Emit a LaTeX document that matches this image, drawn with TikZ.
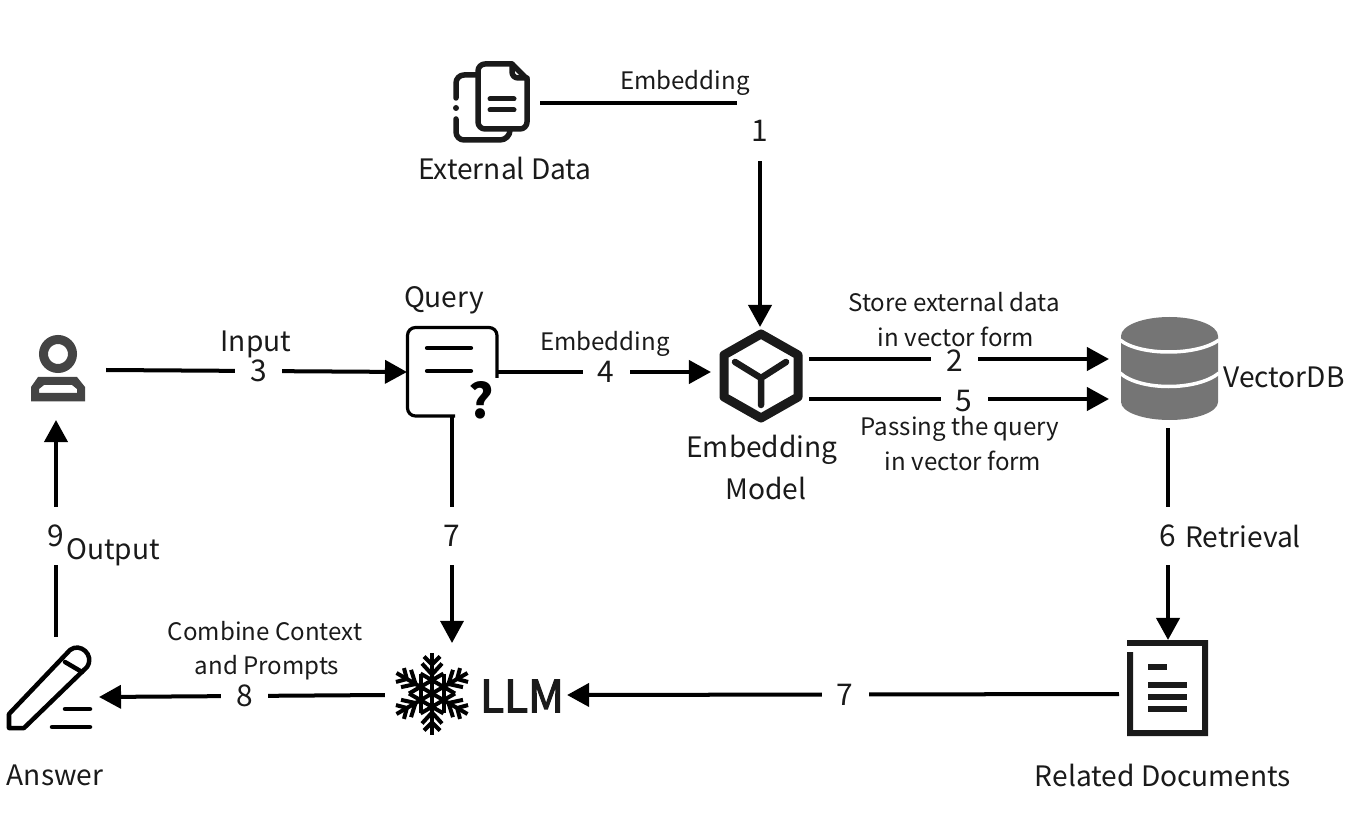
\documentclass[tikz,border=0pt]{standalone}
\usepackage{fontspec}
\setmainfont{Noto Sans CJK SC}
\usetikzlibrary{arrows.meta, calc}
\definecolor{ink}{HTML}{1A1A1A}
\definecolor{usergrey}{HTML}{444444}
\definecolor{dbgrey}{HTML}{757575}
\tikzset{el/.style={line cap=round, line join=round},
  slot/.style={inner sep=0pt, outer sep=0pt},
  flow/.style={-{Triangle[length=2.2mm,width=2.3mm]}, line width=0.4mm, black},
  num/.style={fill=white, inner sep=0pt, minimum width=0.47cm, minimum height=0.36cm, font=\fontsize{8.5}{10}\selectfont, text=ink},
  numv/.style={num, minimum height=0.58cm},
  lbl/.style={inner sep=0pt, font=\fontsize{6.85}{9}\selectfont, text=ink},
  captext/.style={inner sep=0pt, font=\fontsize{8}{10}\selectfont, text=ink}}

\begin{document}
\begin{tikzpicture}[x=0.01cm, y=-0.01cm]
  \useasboundingbox (0,0) rectangle (1368,834);
  % slots the connectors run between
  \node[slot, minimum width=0.88cm, minimum height=0.90cm] (docs) at (496,103) {};
  \node[slot, minimum width=1.00cm, minimum height=1.00cm] (user) at (56,370) {};
  \node[slot, minimum width=0.90cm, minimum height=0.90cm] (query) at (452,372) {};
  \node[slot, minimum width=0.98cm, minimum height=1.04cm] (embed) at (760,379) {};
  \node[slot, minimum width=1.18cm, minimum height=0.98cm] (vdb) at (1168,379) {};
  \node[slot, minimum width=0.98cm, minimum height=1.08cm] (related) at (1168,694) {};
  \node[slot, minimum width=1.82cm, minimum height=1.04cm] (llm) at (476,695) {};
  \node[slot, minimum width=0.86cm, minimum height=1.20cm] (answer) at (56,697) {};

  \draw[flow] (docs) -- (docs -| embed) -- node[numv, pos=0.125, minimum height=0.60cm] (n1) {1} (embed.north);
  \draw[flow] (user.east) -- node[num, pos=0.507] (n3) {3} (query.west);
  \draw[flow] (query.east) -- node[num, pos=0.51] (n4) {4} (embed.west |- query.east);
  \draw[flow] ($(embed.east)+(0,-20)$) -- node[num, pos=0.485, yshift=-0.02cm] (n2) {2} ($(vdb.west)+(0,-20)$);
  \draw[flow] ($(embed.east)+(0,20)$) -- node[num, pos=0.517, yshift=-0.02cm] (n5) {5} ($(vdb.west)+(0,20)$);
  \draw[flow] (vdb.south) -- node[numv, pos=0.51] (n6) {6} (related.north);
  \draw[flow, line width=0.32mm] (query.south) -- node[numv, pos=0.527] (n7a) {7} (llm.north -| query.south);
  \draw[flow] (related.west) -- node[num, pos=0.496] (n7b) {7} (llm.east);
  \draw[flow] (llm.west) -- node[num, pos=0.49] (n8) {8} (answer.east);
  \draw[flow] (answer.north) -- node[numv, pos=0.465] (n9) {9} (user.south);

  % external data
  \begin{scope}[el, ink, line width=0.055cm]
    \draw (512,64) -- (527,79) -- (527,122) arc (0:90:7) -- (485,129) arc (90:180:7) -- (478,71) arc (180:270:7) -- cycle;
    \draw (512,64) -- (512,72) arc (180:90:6) -- (527,78);
    \draw (476,75) -- (464,75) arc (270:180:8) -- (456,98);
    \fill (456,108) circle (3);
    \draw (456,119) -- (456,132) arc (180:90:8) -- (500,140) arc (90:0:10);
    \draw[line width=0.05cm] (490,99) -- (514,99) (490,110) -- (514,110);
  \end{scope}
  % user
  \draw[usergrey, line width=0.09cm] (58,354) circle (14.5);
  \fill[usergrey, even odd rule] (31,401.5) -- (31,387) -- (38,377) -- (77,377) -- (85,387) -- (85,401.5) -- cycle
     (39,393) -- (77,393) -- (77,389) -- (72,385) -- (44,385) -- (39,389) -- cycle;
  % query
  \draw[black, line width=0.032cm, rounded corners=0.08cm] (497,378) -- (497,327.5) -- (407.5,327.5) -- (407.5,416) -- (455,416);
  \draw[black, el, line width=0.042cm] (427,348) -- (471,348) (427,371) -- (471,371);
  \node[inner sep=0pt, font=\fontsize{13.5}{14}\selectfont\bfseries] (qmark) at (481,400) {?};
  % embedding model
  \draw[ink, el, line width=0.09cm] (761,334) -- (798,355) -- (798,397) -- (761,418) -- (724,397) -- (724,355) -- cycle;
  \draw[ink, el, line width=0.065cm] (735,362) -- (761,378) -- (786,362) (761,378) -- (761,405);
  % vector db
  \fill[dbgrey] (1121,336) arc (180:360:48.5 and 19) -- (1218,402) arc (0:180:48.5 and 18) -- cycle;
  \draw[white, line width=0.035cm] (1120,340) .. controls (1140,356) and (1197,356) .. (1219,340);
  \draw[white, line width=0.035cm] (1120,373) .. controls (1140,391) and (1197,391) .. (1219,373);
  % related documents
  \begin{scope}[ink]
    \fill (1127,640) rectangle (1208,646);
    \fill (1127,652) rectangle (1133,736) (1127,730) rectangle (1208,736) (1202,640) rectangle (1208,736);
    \fill (1148,664) rectangle (1167,670);
    \foreach \ly in {682,694,706}{\fill (1148,\ly) rectangle (1187,\ly+6);}
  \end{scope}
  % snowflake
  \begin{scope}[shift={(432,693.5)}, black, line width=0.04cm]
    \foreach \a in {30,90,...,330}{
      \draw (0,0) -- (\a:41);
      \draw (\a:29) -- ($(\a:37)+(\a+90:8)$) (\a:29) -- ($(\a:37)+(\a-90:8)$);
      \draw (\a:19) -- ($(\a:30)+(\a+90:10)$) (\a:19) -- ($(\a:30)+(\a-90:10)$);
      \draw (\a+30:23) -- (\a+150:23);}
  \end{scope}
  % answer
  \begin{scope}[el, black, line width=0.045cm]
    \draw (9,714) -- (70,650) .. controls (80,642) and (95,655) .. (87,667) -- (24,728) -- (9,728) -- cycle;
    \draw (65,662) -- (82,672);
    \draw (65,709) -- (90,709) (52,727) -- (90,727);
  \end{scope}

  \node[lbl] (tembed) at (685,83) {Embedding};
  \node[captext] (tdocs) at (505,168) {External Data};
  \node[captext] (tquery) at (444,300) {Query};
  \node[captext] (tinput) at (256,344) {Input};
  \node[lbl] (tembedq) at (605,344) {Embedding};
  \node[lbl] (tstore) at (954,302) {Store external data};
  \node[lbl] (tstoreb) at (956,337) {in vector form};
  \node[lbl] (tpass) at (960,429) {Passing the query};
  \node[lbl] (tpassb) at (963,461) {in vector form};
  \node[captext] (tmodel) at (762,450) {Embedding};
  \node[captext] (tmodelb) at (766,488) {Model};
  \node[captext] (tvdb) at (1284,377) {VectorDB};
  \node[captext] (tretr) at (1243,536) {Retrieval};
  \node[captext] (toutput) at (113,552) {Output};
  \node[lbl] (tcomb) at (265,631) {Combine Context};
  \node[lbl] (tcombb) at (267,668) {and Prompts};
  \node[inner sep=0pt, font=\fontsize{12.6}{14}\selectfont\addfontfeature{FakeBold=2.5}, text=ink] (tllm) at (522,696) {LLM};
  \node[captext] (tanswer) at (55,775) {Answer};
  \node[captext] (trelated) at (1163,775) {Related Documents};
\end{tikzpicture}
\end{document}
